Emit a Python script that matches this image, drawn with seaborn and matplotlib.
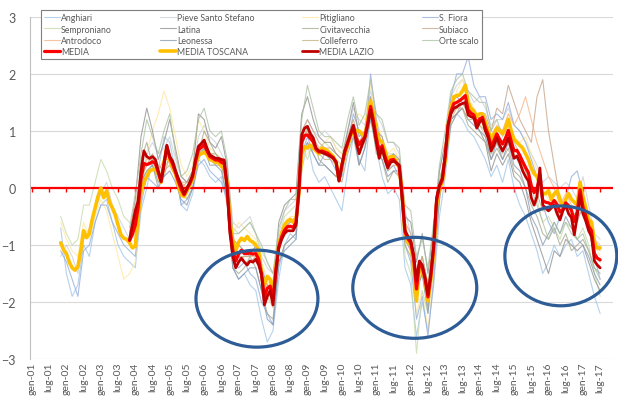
import matplotlib
matplotlib.use("Agg")
import matplotlib.pyplot as plt
import seaborn as sns
from matplotlib.patches import Ellipse

# indice mese: 0 = gen-01 ... 198 = lug-17
etichette = [f"{m}-{a:02d}" for a in range(1, 18) for m in ("gen", "lug")]

# medie mensili
inizio_toscana = 10   # nov-01
media_toscana = [
    -0.96, -1.08, -1.15, -1.30, -1.40, -1.44, -1.38, -1.10, -0.75, -0.87, -0.80, -0.55,
    -0.35, -0.15, 0.00, -0.17, -0.05, -0.25, -0.35, -0.47, -0.65, -0.82, -0.88, -0.90,
    -0.96, -1.05, -1.02, -0.50, -0.05, 0.10, 0.20, 0.30, 0.32, 0.33, 0.25, 0.10,
    0.45, 0.70, 0.50, 0.35, 0.25, 0.05, -0.12, -0.15, -0.05, 0.05, 0.15, 0.40,
    0.58, 0.60, 0.63, 0.58, 0.50, 0.48, 0.45, 0.45, 0.38, 0.35, 0.10, -0.60,
    -0.93, -1.10, -0.95, -0.88, -0.92, -0.85, -0.92, -0.95, -1.00, -1.10, -1.50, -1.70,
    -1.55, -1.60, -1.80, -1.40, -1.00, -0.80, -0.65, -0.58, -0.55, -0.60, -0.55, -0.10,
    0.60, 0.72, 0.70, 0.75, 0.70, 0.65, 0.60, 0.70, 0.68, 0.65, 0.60, 0.55,
    0.45, 0.15, 0.40, 0.60, 0.75, 0.90, 1.05, 1.00, 1.00, 0.95, 0.90, 1.20,
    1.53, 1.30, 1.00, 0.85, 0.80, 0.65, 0.50, 0.55, 0.55, 0.45, 0.35, -0.10,
    -0.80, -0.95, -1.00, -1.30, -1.98, -1.40, -1.45, -1.60, -1.98, -1.60, -1.10, -0.30,
    0.00, 0.10, 0.50, 1.10, 1.40, 1.60, 1.62, 1.63, 1.70, 1.80, 1.50, 1.40,
    1.35, 1.25, 1.30, 1.30, 1.15, 1.00, 0.85, 0.95, 1.05, 1.00, 0.95, 1.05,
    1.20, 1.00, 0.85, 0.80, 0.75, 0.70, 0.60, 0.50, 0.35, 0.25, 0.20, 0.05,
    -0.10, -0.10, -0.05, -0.20, -0.10, -0.05, -0.20, -0.35, -0.20, -0.10, -0.20, -0.25,
    -0.30, 0.10, -0.15, -0.35, -0.55, -0.60, -0.95, -1.05, -1.05,
]

inizio_lazio = 34   # nov-03
media_lazio = [
    -0.90, -0.65, -0.40, -0.23, 0.30, 0.65, 0.55, 0.52, 0.55, 0.50, 0.30, 0.12,
    0.40, 0.75, 0.55, 0.47, 0.30, 0.17, 0.05, -0.10, 0.00, 0.10, 0.23, 0.50,
    0.73, 0.78, 0.84, 0.70, 0.58, 0.55, 0.52, 0.52, 0.50, 0.49, 0.00, -0.80,
    -1.20, -1.40, -1.30, -1.23, -1.30, -1.35, -1.28, -1.30, -1.25, -1.35, -1.52, -2.05,
    -1.90, -1.80, -2.05, -1.46, -1.05, -0.90, -0.80, -0.75, -0.75, -0.75, -0.65, -0.05,
    0.93, 1.05, 1.08, 0.95, 0.88, 0.70, 0.65, 0.62, 0.60, 0.58, 0.55, 0.52,
    0.45, 0.12, 0.40, 0.65, 0.80, 0.95, 1.10, 0.80, 0.60, 0.75, 0.88, 1.10,
    1.37, 1.10, 0.80, 0.52, 0.70, 0.50, 0.35, 0.45, 0.47, 0.44, 0.40, -0.17,
    -0.75, -0.85, -0.93, -1.17, -1.63, -1.28, -1.35, -1.58, -1.87, -1.50, -1.00, -0.17,
    0.05, 0.17, 0.58, 1.10, 1.30, 1.40, 1.42, 1.46, 1.48, 1.50, 1.28, 1.25,
    1.23, 1.05, 1.15, 1.20, 1.00, 0.88, 0.65, 0.75, 0.88, 0.75, 0.65, 0.75,
    0.88, 0.70, 0.52, 0.56, 0.45, 0.30, 0.20, 0.12, -0.17, -0.30, -0.15, 0.35,
    -0.30, -0.35, -0.40, -0.35, -0.30, -0.45, -0.56, -0.40, -0.30, -0.45, -0.52, -0.82,
    -0.50, -0.12, -0.45, -0.58, -0.75, -0.85, -1.28, -1.35, -1.40,
]

media = [
    -0.92, -0.81, -0.65, -0.34, 0.16, 0.43, 0.41, 0.43, 0.46, 0.43, 0.28, 0.11,
    0.42, 0.73, 0.53, 0.42, 0.28, 0.12, -0.02, -0.12, -0.02, 0.08, 0.20, 0.46,
    0.67, 0.71, 0.76, 0.65, 0.55, 0.52, 0.49, 0.49, 0.45, 0.43, 0.04, -0.72,
    -1.09, -1.28, -1.16, -1.09, -1.15, -1.15, -1.14, -1.16, -1.15, -1.25, -1.51, -1.91,
    -1.76, -1.72, -1.95, -1.44, -1.03, -0.86, -0.74, -0.68, -0.67, -0.69, -0.61, -0.07,
    0.80, 0.92, 0.93, 0.87, 0.81, 0.68, 0.63, 0.65, 0.63, 0.61, 0.57, 0.53,
    0.45, 0.13, 0.40, 0.63, 0.78, 0.93, 1.08, 0.88, 0.76, 0.83, 0.89, 1.14,
    1.43, 1.18, 0.88, 0.65, 0.74, 0.56, 0.41, 0.49, 0.50, 0.44, 0.38, -0.14,
    -0.77, -0.89, -0.96, -1.22, -1.77, -1.33, -1.39, -1.59, -1.91, -1.54, -1.04, -0.22,
    0.03, 0.14, 0.55, 1.10, 1.34, 1.48, 1.50, 1.53, 1.57, 1.62, 1.37, 1.31,
    1.28, 1.13, 1.21, 1.24, 1.06, 0.93, 0.73, 0.83, 0.95, 0.85, 0.77, 0.87,
    1.01, 0.82, 0.65, 0.66, 0.57, 0.46, 0.36, 0.27, 0.04, -0.08, -0.01, 0.23,
    -0.22, -0.25, -0.26, -0.29, -0.22, -0.29, -0.42, -0.38, -0.26, -0.31, -0.39, -0.59,
    -0.42, -0.03, -0.33, -0.49, -0.67, -0.75, -1.15, -1.23, -1.26,
]

# stazioni, un valore ogni due mesi
anghiari = [
    -0.7, -1.5, -1.9, -1.7, -1.0, -1.2, -0.6, -0.3, -0.2, -0.6,
    -1.0, -1.2, -1.3, -1.4, -0.4, 0.0, 0.5, 0.3, 0.9, 0.8,
    0.3, -0.3, -0.4, -0.1, 0.5, 0.4, 0.2, 0.1, 0.2, -0.3,
    -1.4, -1.6, -1.5, -1.7, -1.8, -2.3, -2.7, -2.5, -1.6, -1.0,
    -0.8, -0.9, 0.3, 0.8, 0.3, 0.1, 0.2, 0.0, -0.2, -0.4,
    0.3, 0.9, 0.5, 0.3, 1.3, 0.7, 0.2, -0.1, 0.0, -0.2,
    -1.4, -1.7, -2.6, -2.0, -2.5, -1.7, -0.5, 0.2, 1.1, 1.3,
    1.2, 1.0, 0.9, 0.7, 0.5, 0.2, 0.4, 0.1, 0.5, 0.0,
    -0.3, -0.5, -0.8, -1.1, -1.5, -1.3, -1.0, -1.2, -1.0, -0.9,
    -1.2, -1.1, -1.5, -1.9, -2.2,
]
pieve_santo_stefano = [
    -1.2, -1.0, -1.2, -1.5, -0.9, -0.7, -0.4, -0.1, 0.1, -0.3,
    -0.5, -0.7, -0.9, -0.8, 0.2, 0.6, 0.8, 0.6, 0.7, 0.9,
    0.5, 0.2, 0.1, 0.3, 0.9, 1.1, 0.9, 0.8, 0.6, 0.4,
    -0.6, -0.7, -0.6, -0.5, -0.8, -1.2, -1.4, -1.5, -0.8, -0.4,
    -0.3, -0.2, 0.9, 1.2, 1.0, 0.9, 1.0, 0.9, 0.7, 0.6,
    1.0, 1.4, 1.2, 1.1, 1.7, 1.3, 1.1, 0.8, 0.8, 0.6,
    -0.4, -0.8, -1.6, -1.2, -1.7, -0.8, 0.3, 0.8, 1.6, 1.8,
    1.9, 1.7, 1.5, 1.6, 1.4, 1.1, 1.2, 1.2, 1.4, 1.1,
    1.0, 0.8, 0.6, 0.4, 0.1, 0.2, 0.1, 0.0, 0.1, 0.0,
    -0.2, 0.2, -0.3, -0.8, -0.9,
]
pitigliano = [
    -0.6, -0.9, -1.1, -1.2, -0.6, -0.9, -0.5, -0.2, -0.4, -0.8,
    -1.2, -1.6, -1.5, -1.3, -0.2, 0.6, 1.0, 1.3, 1.7, 1.4,
    0.9, 0.4, 0.2, 0.4, 1.2, 1.0, 0.7, 0.6, 0.5, 0.3,
    -0.8, -0.6, -0.7, -0.8, -0.9, -1.3, -1.6, -1.9, -1.1, -0.7,
    -0.5, -0.5, 0.5, 0.6, 0.7, 0.6, 0.8, 0.9, 0.7, 0.6,
    0.9, 1.2, 1.3, 1.2, 1.8, 1.2, 0.9, 0.6, 0.7, 0.5,
    -0.9, -1.1, -2.2, -1.8, -2.5, -1.5, -0.2, 0.4, 1.3, 1.7,
    1.9, 1.6, 1.4, 1.2, 1.0, 0.7, 1.1, 1.0, 1.3, 0.9,
    0.8, 0.9, 0.6, 0.3, 0.0, -0.2, -0.3, -0.1, -0.4, -0.5,
    -0.4, -0.2, -0.6, -1.0, -1.2,
]
s_fiora = [
    -1.1, -1.3, -1.6, -1.9, -1.1, -1.0, -0.6, -0.3, -0.3, -0.6,
    -0.8, -1.0, -1.1, -1.2, -0.3, 0.2, 0.1, 0.0, 0.5, 0.6,
    0.3, -0.3, -0.2, 0.0, 0.4, 0.5, 0.3, 0.2, 0.1, -0.2,
    -1.3, -1.4, -1.3, -1.5, -1.6, -2.0, -2.2, -2.4, -1.4, -1.0,
    -0.9, -0.8, 0.6, 0.9, 0.6, 0.4, 0.6, 0.5, 0.3, 0.2,
    0.8, 1.3, 1.0, 0.8, 2.0, 1.2, 0.7, 0.3, 0.4, 0.2,
    -1.0, -1.3, -2.3, -1.9, -2.6, -1.6, -0.2, 0.6, 1.6, 2.0,
    2.0, 2.3, 1.8, 1.6, 1.6, 1.2, 1.3, 1.2, 1.5, 1.1,
    1.0, 0.8, 0.5, 0.2, -0.3, -0.6, -0.8, -0.5, -0.2, 0.2,
    0.3, -0.1, -0.7, -1.2, -1.6,
]
semproniano = [
    -0.5, -0.8, -1.0, -0.9, -0.3, -0.3, 0.1, 0.5, 0.3, 0.0,
    -0.2, -0.5, -0.6, -0.7, 0.1, 0.3, 0.4, 0.2, 0.4, 0.5,
    0.2, -0.1, 0.0, 0.2, 0.6, 0.7, 0.6, 0.6, 0.5, 0.3,
    -0.7, -0.8, -0.7, -0.6, -0.8, -1.1, -1.3, -1.5, -0.9, -0.5,
    -0.4, -0.3, 0.7, 0.5, 0.8, 0.7, 0.8, 0.7, 0.6, 0.5,
    0.8, 1.0, 1.0, 0.9, 1.4, 0.9, 0.8, 0.6, 0.6, 0.4,
    -1.2, -1.5, -2.9, -1.8, -2.2, -1.2, 0.0, 0.4, 1.3, 1.5,
    1.6, 1.4, 1.2, 1.1, 0.9, 0.6, 0.9, 0.8, 1.0, 0.6,
    0.4, 0.3, 0.1, -0.2, -0.6, -0.5, -0.7, -0.9, -0.6, -0.7,
    -0.9, -0.7, -1.0, -1.5, -1.9,
]
latina = [
    -0.8, -0.2, 0.9, 1.4, 1.0, 0.5, 0.8, 1.2, 0.7, 0.2,
    0.1, 0.3, 1.3, 1.2, 0.8, 0.7, 0.9, 0.4, -0.9, -1.0,
    -1.1, -1.2, -1.0, -1.4, -1.7, -1.8, -0.6, -0.3, -0.2, -0.1,
    1.3, 1.6, 1.2, 0.9, 0.8, 0.8, 0.6, 0.5, 1.0, 1.5,
    0.9, 1.0, 1.6, 1.0, 0.9, 0.5, 0.6, 0.5, -0.5, -0.6,
    -1.3, -0.8, -1.5, -0.7, 0.3, 0.8, 1.5, 1.6, 1.5, 1.3,
    1.2, 1.0, 0.8, 0.3, 0.6, 0.4, 0.6, 0.2, 0.1, -0.2,
    -0.6, -0.9, -1.2, -1.5, -1.1, -1.2, -0.9, -1.0, -1.1, -1.0,
    -1.3, -1.6, -1.8,
]
civitavecchia = [
    -1.0, -0.6, 0.5, 0.8, 0.4, 0.0, 0.2, 0.6, 0.4, 0.0,
    -0.2, 0.0, 0.6, 1.0, 0.8, 0.6, 0.4, -0.2, -1.4, -1.5,
    -1.4, -1.2, -1.4, -1.8, -2.2, -2.3, -1.3, -1.0, -0.9, -0.8,
    0.7, 1.1, 0.9, 0.5, 0.4, 0.3, 0.2, 0.1, 0.6, 0.9,
    0.4, 0.7, 1.3, 0.6, 0.5, 0.1, 0.3, 0.2, -1.0, -1.2,
    -1.8, -1.5, -2.1, -1.3, -0.2, 0.4, 1.1, 1.3, 1.4, 1.1,
    1.0, 0.9, 0.8, 0.5, 0.7, 0.5, 0.7, 0.3, 0.2, 0.0,
    -0.3, -0.5, -0.8, -0.9, -0.7, -1.0, -0.8, -1.1, -1.0, -0.9,
    -1.1, -1.4, -1.5,
]
subiaco = [
    -0.9, -0.5, 0.2, 0.4, 0.6, 0.4, 0.3, 0.4, 0.2, 0.0,
    0.1, 0.3, 0.6, 0.7, 0.5, 0.4, 0.4, 0.1, -1.1, -1.2,
    -1.3, -1.3, -1.2, -1.5, -1.8, -2.0, -1.0, -0.7, -0.6, -0.5,
    1.0, 1.2, 1.0, 0.8, 0.7, 0.7, 0.6, 0.5, 0.9, 1.2,
    0.8, 1.0, 1.3, 0.9, 0.8, 0.4, 0.5, 0.5, -0.6, -0.8,
    -1.5, -1.2, -1.7, -0.9, 0.1, 0.6, 1.2, 1.3, 1.5, 1.4,
    1.3, 1.3, 1.3, 1.0, 1.4, 1.3, 1.8, 1.5, 1.2, 1.0,
    0.8, 1.6, 1.9, 1.0, 0.4, -0.2, -0.3, -0.4, -0.6, -0.3,
    -0.6, -1.0, -1.1,
]
antrodoco = [
    -0.8, -0.3, 0.3, 0.5, 0.5, 0.2, 0.3, 0.5, 0.3, 0.1,
    0.0, 0.2, 0.7, 0.8, 0.5, 0.5, 0.5, 0.0, -1.2, -1.3,
    -1.2, -1.2, -1.2, -1.5, -1.9, -2.1, -1.1, -0.8, -0.7, -0.6,
    0.9, 1.0, 0.9, 0.7, 0.6, 0.6, 0.5, 0.4, 0.8, 1.1,
    0.7, 0.9, 1.4, 0.8, 0.7, 0.4, 0.5, 0.4, -0.8, -1.0,
    -1.6, -1.4, -1.9, -1.0, 0.0, 0.5, 1.2, 1.4, 1.5, 1.3,
    1.3, 1.2, 1.1, 0.9, 1.1, 1.0, 1.3, 1.1, 1.3, 1.6,
    1.2, 0.8, 0.5, 0.2, 0.0, -0.3, -0.1, -0.3, -0.4, -0.2,
    -0.5, -0.9, -1.0,
]
leonessa = [
    -1.0, -0.6, 0.1, 0.3, 0.4, 0.1, 0.2, 0.3, 0.1, -0.2,
    -0.3, 0.0, 0.5, 0.7, 0.4, 0.4, 0.3, -0.2, -1.4, -1.6,
    -1.5, -1.4, -1.4, -1.8, -2.3, -2.4, -1.3, -1.1, -1.0, -0.9,
    0.6, 0.8, 0.6, 0.4, 0.4, 0.3, 0.2, 0.3, 0.7, 1.0,
    0.4, 0.7, 1.2, 0.7, 0.5, 0.2, 0.3, 0.3, -0.9, -1.1,
    -1.8, -1.5, -2.2, -1.2, -0.1, 0.4, 1.2, 1.3, 1.4, 1.2,
    1.1, 1.0, 0.9, 0.5, 0.8, 0.5, 0.8, 0.4, 0.3, 0.0,
    -0.5, -0.7, -1.0, -0.8, -0.6, -0.8, -0.5, -0.7, -0.9, -1.0,
    -1.2, -1.5, -1.7,
]
colleferro = [
    -0.9, -0.4, 0.2, 0.4, 0.5, 0.3, 0.5, 0.5, 0.2, 0.1,
    0.1, 0.2, 0.6, 0.8, 0.6, 0.6, 0.5, 0.1, -1.1, -1.2,
    -1.2, -1.2, -1.1, -1.4, -1.8, -1.9, -0.9, -0.7, -0.6, -0.6,
    0.8, 1.0, 0.8, 0.6, 0.5, 0.5, 0.4, 0.3, 0.7, 1.0,
    0.6, 0.8, 1.3, 0.7, 0.6, 0.3, 0.4, 0.4, -0.7, -0.9,
    -1.5, -1.2, -1.7, -0.9, 0.1, 0.6, 1.3, 1.4, 1.4, 1.2,
    1.2, 1.1, 1.0, 0.6, 0.8, 0.6, 0.9, 0.6, 0.5, 0.3,
    0.0, -0.1, -0.4, -0.4, -0.3, -0.5, -0.3, -0.4, -0.5, -0.4,
    -0.7, -1.2, -1.3,
]
orte_scalo = [
    -0.7, -0.1, 0.6, 1.2, 0.9, 0.6, 1.0, 1.3, 0.6, 0.2,
    0.3, 0.6, 1.2, 1.4, 1.0, 0.9, 1.0, 0.5, -0.8, -0.8,
    -0.7, -0.6, -0.8, -1.0, -1.3, -1.5, -0.7, -0.4, -0.2, -0.2,
    1.2, 1.8, 1.4, 1.0, 0.9, 0.9, 0.8, 0.7, 1.2, 1.6,
    1.1, 1.3, 1.9, 1.3, 1.2, 0.8, 0.8, 0.7, -0.3, -0.4,
    -1.2, -0.9, -1.4, -0.6, 0.4, 1.0, 1.7, 1.9, 2.0, 1.7,
    1.6, 1.5, 1.5, 1.0, 1.2, 0.9, 1.1, 0.8, 0.6, 0.4,
    0.0, -0.3, -0.6, -0.9, -0.6, -0.8, -0.6, -0.8, -0.9, -0.8,
    -1.1, -1.4, -1.6,
]

stazioni = [
    ("Anghiari", inizio_toscana, anghiari, "#9DC3E6"),
    ("Pieve Santo Stefano", inizio_toscana, pieve_santo_stefano, "#C9CED6"),
    ("Pitigliano", inizio_toscana, pitigliano, "#FFE699"),
    ("S. Fiora", inizio_toscana, s_fiora, "#8FAADC"),
    ("Semproniano", inizio_toscana, semproniano, "#C5D9A8"),
    ("Latina", inizio_lazio, latina, "#8C8C8C"),
    ("Civitavecchia", inizio_lazio, civitavecchia, "#A5A58A"),
    ("Subiaco", inizio_lazio, subiaco, "#C5A085"),
    ("Antrodoco", inizio_lazio, antrodoco, "#F4B183"),
    ("Leonessa", inizio_lazio, leonessa, "#8497B0"),
    ("Colleferro", inizio_lazio, colleferro, "#BFAE7F"),
    ("Orte scalo", inizio_lazio, orte_scalo, "#A9BFA0"),
]

sns.set_style("white")
plt.rcParams["font.family"] = ["Lato", "DejaVu Sans"]

fig, ax = plt.subplots(figsize=(6.18, 4.06), dpi=100)
fig.subplots_adjust(left=0.0485, right=0.992, top=0.956, bottom=0.113)

handles = {}
for nome, inizio, valori, colore in stazioni:
    mesi = list(range(inizio, inizio + 2 * len(valori), 2))
    sns.lineplot(x=mesi, y=valori, ax=ax, color=colore, linewidth=0.8,
                 alpha=0.75, errorbar=None, zorder=2)
    handles[nome] = ax.lines[-1]

ax.axhline(0, color="#FF0000", linewidth=1.6, zorder=2.5)

medie = [
    ("MEDIA TOSCANA", inizio_toscana, media_toscana, "#FFC000", 2.6),
    ("MEDIA", inizio_lazio, media, "#FF0000", 2.3),
    ("MEDIA LAZIO", inizio_lazio, media_lazio, "#C00000", 2.0),
]
for nome, inizio, valori, colore, lw in medie:
    mesi = list(range(inizio, inizio + len(valori)))
    sns.lineplot(x=mesi, y=valori, ax=ax, color=colore, linewidth=lw,
                 errorbar=None, zorder=3)
    handles[nome] = ax.lines[-1]

tick_mesi = list(range(0, 6 * len(etichette), 6))
ax.set_xlim(-0.7, 202.5)
ax.set_ylim(-3, 3)
ax.set_yticks(range(-3, 4))
ax.set_xticks(tick_mesi, etichette, rotation=90)
ax.tick_params(axis="x", length=0, pad=2, labelsize=7.5, colors="#595959")
ax.tick_params(axis="y", length=0, pad=10, labelsize=9, colors="#595959")
ax.yaxis.grid(True, color="#D9D9D9", linewidth=0.8)
ax.set_axisbelow(True)
ax.set_xlabel("")
ax.set_ylabel("")
for s in ("top", "right", "bottom"):
    ax.spines[s].set_visible(False)
ax.spines["left"].set_color("#BFBFBF")
ax.spines["left"].set_linewidth(0.8)

# tacche rosse sull'asse dello zero
sec = ax.secondary_xaxis(0.5)
sec.set_alignment("bottom")
sec.set_xticks(tick_mesi)
sec.tick_params(axis="x", length=3, width=1, color="#FF0000",
                labelbottom=False, labeltop=False)
for s in sec.spines.values():
    s.set_visible(False)

for cx, cy, w, h in [(78.4, -1.94, 42.5, 1.70),
                     (133.4, -1.75, 43.2, 1.77),
                     (184.3, -1.19, 39.0, 1.75)]:
    ax.add_patch(Ellipse((cx, cy), w, h, fill=False, edgecolor="#2E5C96",
                         linewidth=2.3, zorder=5, clip_on=False))

ordine = ["Anghiari", "Semproniano", "Antrodoco", "MEDIA",
          "Pieve Santo Stefano", "Latina", "Leonessa", "MEDIA TOSCANA",
          "Pitigliano", "Civitavecchia", "Colleferro", "MEDIA LAZIO",
          "S. Fiora", "Subiaco", "Orte scalo"]
leg = ax.legend([handles[n] for n in ordine], ordine, ncol=4, loc="lower left",
                bbox_to_anchor=(0.019, 0.877, 0.756, 0.132), mode="expand",
                fontsize=6.3, frameon=True, fancybox=False, edgecolor="#7F7F7F",
                framealpha=1, handlelength=1.8, handletextpad=0.15,
                borderaxespad=0, labelspacing=0.25, borderpad=0.35)
leg.get_frame().set_linewidth(0.8)
for t in leg.get_texts():
    t.set_color("#595959")

fig.savefig("out.png", dpi=100)
